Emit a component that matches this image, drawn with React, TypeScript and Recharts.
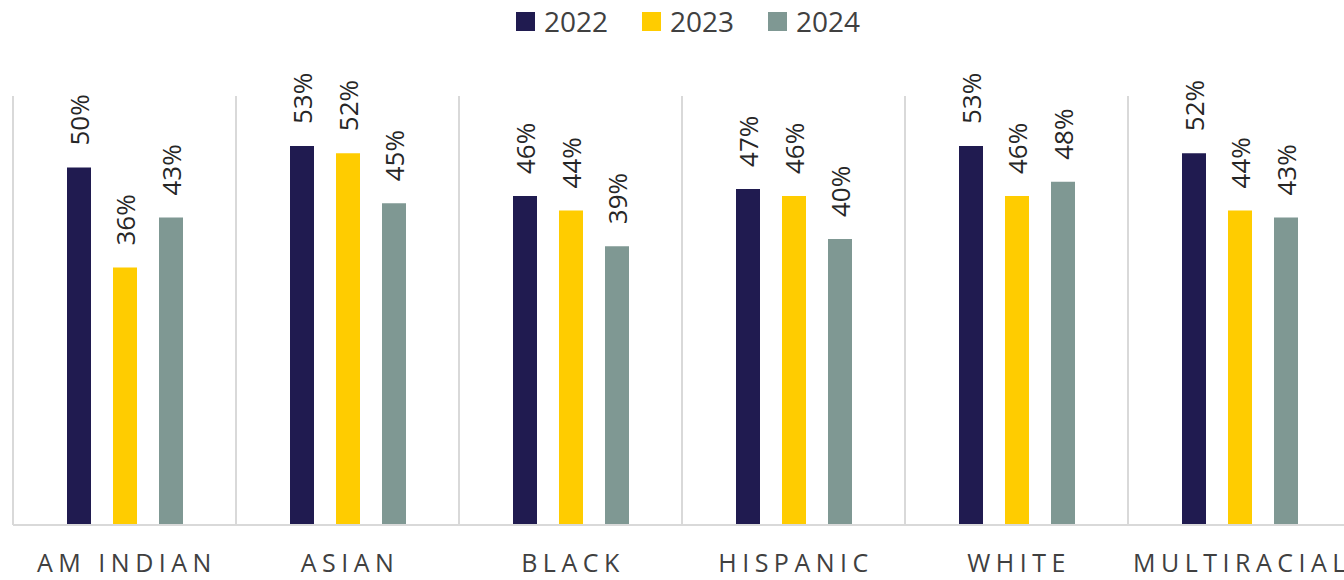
import React from 'react';
import { BarChart, Bar, XAxis, YAxis, CartesianGrid, Legend, LabelList } from 'recharts';

const categories = ['AM INDIAN', 'ASIAN', 'BLACK', 'HISPANIC', 'WHITE', 'MULTIRACIAL'];
const values2022 = [50, 53, 46, 47, 53, 52];
const values2023 = [36, 52, 44, 46, 46, 44];
const values2024 = [43, 45, 39, 40, 48, 43];
const seriesNames = ['2022', '2023', '2024'];
const seriesKeys = ['y2022', 'y2023', 'y2024'];
const seriesColors = ['#201b50', '#ffcc00', '#7f9893'];

const data = categories.map((c, i) => ({
  category: c,
  y2022: values2022[i],
  y2023: values2023[i],
  y2024: values2024[i],
}));

const FONT = '"Open Sans", sans-serif';

const renderLabel = (props: any) => {
  const { x, y, width, value } = props;
  const cx = Number(x) + Number(width) / 2;
  const ty = Number(y) - 22;
  return (
    <text
      x={cx}
      y={ty}
      transform={`rotate(-90 ${cx} ${ty})`}
      textAnchor="start"
      dominantBaseline="central"
      fontSize={26}
      fill="#262626"
      fontFamily={FONT}
    >
      {`${value}%`}
    </text>
  );
};

const LETTER = 5;
const renderTick = (props: any) => {
  const { x, y, payload } = props;
  return (
    <text
      x={Number(x) + LETTER / 2}
      y={Number(y) + 47}
      textAnchor="middle"
      fontSize={25}
      fill="#404040"
      fontFamily={FONT}
      letterSpacing={LETTER + 0.5}
    >
      {payload.value}
    </text>
  );
};

const renderLegend = (props: any) => {
  const { payload } = props;
  return (
    <div
      style={{
        height: 96,
        display: 'flex',
        justifyContent: 'center',
        alignItems: 'flex-start',
        paddingTop: 6,
        paddingLeft: 12,
        boxSizing: 'border-box',
        fontFamily: FONT,
      }}
    >
      {(payload || []).map((entry: any, i: number) => (
        <div
          key={i}
          style={{
            display: 'flex',
            alignItems: 'center',
            marginRight: i < payload.length - 1 ? 34 : 0,
            height: 30,
          }}
        >
          <span
            style={{
              display: 'inline-block',
              width: 19,
              height: 19,
              background: entry.color,
              marginRight: 9,
            }}
          />
          <span style={{ fontSize: 28, color: '#404040', lineHeight: '30px' }}>{entry.value}</span>
        </div>
      ))}
    </div>
  );
};

export default function App() {
  return (
    <div
      style={{
        position: 'fixed',
        top: 0,
        left: 0,
        width: 1344,
        height: 580,
        overflow: 'hidden',
        background: '#ffffff',
      }}
    >
      <BarChart
        width={1360}
        height={580}
        data={data}
        margin={{ top: 0, right: 9, bottom: 0, left: 13 }}
        barSize={24}
        barGap={22}
      >
        <CartesianGrid
          horizontal={false}
          vertical={true}
          stroke="#d9d9d9"
          strokeWidth={2}
          verticalCoordinatesGenerator={(p: any) => {
            const off = p.offset;
            const band = off.width / categories.length;
            return categories.map((_, i) => off.left + i * band);
          }}
        />
        <XAxis
          dataKey="category"
          height={55}
          axisLine={{ stroke: '#d9d9d9', strokeWidth: 2 }}
          tickLine={false}
          tickSize={0}
          tickMargin={0}
          interval={0}
          tick={renderTick}
        />
        <YAxis hide domain={[0, 60]} />
        <Legend verticalAlign="top" content={renderLegend} />
        {seriesKeys.map((k, i) => (
          <Bar key={k} dataKey={k} name={seriesNames[i]} fill={seriesColors[i]} isAnimationActive={false}>
            <LabelList dataKey={k} content={renderLabel} />
          </Bar>
        ))}
      </BarChart>
    </div>
  );
}
